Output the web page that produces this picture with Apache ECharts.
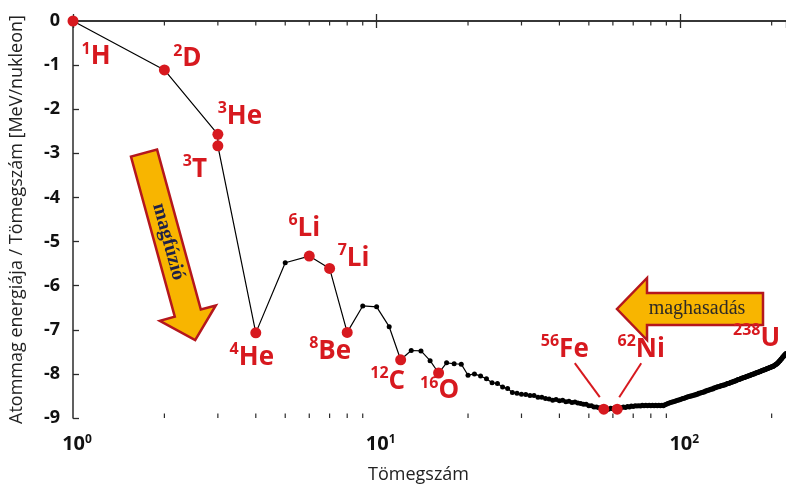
<!DOCTYPE html>
<html>
<head>
<meta charset="utf-8">
<script src="https://cdn.jsdelivr.net/npm/echarts@6/dist/echarts.min.js"></script>
<style>
html,body{margin:0;padding:0;background:#fff;}
#chart{width:786px;height:489px;}
</style>
</head>
<body>
<div id="chart"></div>
<script>
// ---- data ----
const curveMass = [
  1,2,3,3,4,5,6,7,8,9,10,11,12,13,14,15,16,17,18,19,
  20,21,22,23,24,25,26,27,28,29,30,31,32,33,34,35,36,37,38,39,
  40,41,42,43,44,45,46,47,48,49,50,51,52,53,54,55,56,57,58,59,
  60,61,62,63,64,65,66,67,68,69,70,71,72,73,74,75,76,77,78,79,
  80,81,82,83,84,85,86,87,88,89,90,91,92,93,94,95,96,97,98,99,
  100,101,102,103,104,105,106,107,108,109,110,111,112,113,114,115,116,117,118,119,
  120,121,122,123,124,125,126,127,128,129,130,131,132,133,134,135,136,137,138,139,
  140,141,142,143,144,145,146,147,148,149,150,151,152,153,154,155,156,157,158,159,
  160,161,162,163,164,165,166,167,168,169,170,171,172,173,174,175,176,177,178,179,
  180,181,182,183,184,185,186,187,188,189,190,191,192,193,194,195,196,197,198,199,
  200,201,202,203,204,205,206,207,208,209,210,211,212,213,214,215,216,217,218,219,
  220,221,222,223
];
const curveEnergy = [
  0,-1.11,-2.57,-2.83,-7.07,-5.48,-5.33,-5.61,-7.06,-6.46,-6.48,-6.93,-7.68,-7.47,-7.48,-7.70,-7.98,-7.75,-7.77,-7.78,
  -8.03,-8.00,-8.05,-8.11,-8.20,-8.22,-8.30,-8.33,-8.42,-8.44,-8.46,-8.47,-8.49,-8.49,-8.53,-8.53,-8.56,-8.57,-8.60,-8.58,
  -8.61,-8.60,-8.63,-8.62,-8.65,-8.64,-8.66,-8.67,-8.69,-8.69,-8.72,-8.72,-8.75,-8.75,-8.77,-8.77,-8.80,-8.78,-8.80,-8.78,
  -8.79,-8.77,-8.80,-8.76,-8.77,-8.75,-8.76,-8.74,-8.75,-8.73,-8.74,-8.72,-8.73,-8.72,-8.73,-8.71,-8.72,-8.71,-8.72,-8.71,
  -8.72,-8.71,-8.72,-8.71,-8.72,-8.71,-8.72,-8.71,-8.72,-8.70,-8.69,-8.67,-8.66,-8.65,-8.64,-8.63,-8.62,-8.61,-8.60,-8.59,
  -8.58,-8.57,-8.56,-8.55,-8.54,-8.53,-8.52,-8.51,-8.50,-8.50,-8.49,-8.48,-8.48,-8.46,-8.46,-8.44,-8.44,-8.43,-8.42,-8.41,
  -8.41,-8.39,-8.39,-8.37,-8.37,-8.36,-8.35,-8.34,-8.34,-8.32,-8.32,-8.31,-8.30,-8.29,-8.29,-8.28,-8.27,-8.27,-8.26,-8.25,
  -8.25,-8.24,-8.23,-8.22,-8.22,-8.21,-8.20,-8.19,-8.19,-8.18,-8.17,-8.16,-8.16,-8.15,-8.14,-8.13,-8.13,-8.12,-8.11,-8.10,
  -8.10,-8.09,-8.08,-8.08,-8.07,-8.06,-8.06,-8.05,-8.04,-8.04,-8.03,-8.02,-8.02,-8.01,-8.00,-8.00,-7.99,-7.98,-7.98,-7.97,
  -7.97,-7.96,-7.95,-7.95,-7.94,-7.93,-7.93,-7.92,-7.91,-7.91,-7.90,-7.90,-7.89,-7.88,-7.88,-7.87,-7.86,-7.86,-7.85,-7.85,
  -7.84,-7.83,-7.83,-7.82,-7.81,-7.80,-7.79,-7.78,-7.77,-7.76,-7.74,-7.73,-7.71,-7.70,-7.68,-7.66,-7.65,-7.63,-7.61,-7.60,
  -7.58,-7.57,-7.55,-7.54
];
const nuclideSup    = ['1','2','3','3','4','6','7','8','12','16','56','62','238'];
const nuclideSymbol = ['H','D','He','T','He','Li','Li','Be','C','O','Fe','Ni','U'];
const nuclideMass   = [1,2,3,3,4,6,7,8,12,16,56,62,238];
const nuclideEnergy = [0,-1.11,-2.57,-2.83,-7.07,-5.33,-5.61,-7.06,-7.68,-7.98,-8.80,-8.80,-7.57];
const minorTickValues = [2,3,4,5,6,7,8,9,20,30,40,50,60,70,80,90,200];

// ---- styling (label offsets, px) ----
const labelOffsets = [[23,36],[23,-11],[22,-18],[-23,24],[-4,25],[-5,-28],[24,-10],[-17,19],[-13,22],[1,18],[-39,-60],[24,-60],[-38,-16]];
const leaderLines = {Fe: [[-29,-46],[-4,-12]], Ni: [[24,-46],[2,-12]]};
const RED = '#d7191f';
const AXIS = '#2b2b2b';

const curveData = curveMass.map((a,i)=>[a, curveEnergy[i]]);
const nuclideData = nuclideMass.map((a,i)=>({
  value:[a, nuclideEnergy[i]],
  name: nuclideSymbol[i],
  label:{formatter: '{s|'+nuclideSup[i]+'}{m|'+nuclideSymbol[i]+'}'}
}));
const leaderData = nuclideMass.map((a,i)=>[a, nuclideEnergy[i], nuclideSymbol[i]]).filter(d=>leaderLines[d[2]]);

const chart = echarts.init(document.getElementById('chart'), null, {renderer:'canvas'});
const option = {
  backgroundColor:'#fff',
  animation:false,
  grid:{left:71, top:21, right:0, bottom:61, containLabel:false},
  xAxis:[{
    type:'log', logBase:10, min:1, max:223,
    position:'bottom',
    name:'Tömegszám', nameLocation:'middle', nameGap:48,
    nameTextStyle:{fontFamily:'Open Sans', fontSize:18, color:'#222', padding:[0,22,0,0]},
    axisLine:{lineStyle:{color:AXIS, width:1.5}},
    axisTick:{inside:true, length:7, lineStyle:{color:AXIS, width:1.3}},
    splitLine:{show:false},
    axisLabel:{
      margin:16, showMaxLabel:false,
      formatter:function(v){
        const l = Math.log10(v); const p = Math.round(l);
        if (Math.abs(l-p) > 1e-6) return '';
        return '{b|10}{s|'+p+'}';
      },
      rich:{
        b:{fontFamily:'Open Sans', fontWeight:'bold', fontSize:20, color:'#111', padding:[0,0,0,8]},
        s:{fontFamily:'Open Sans', fontWeight:'bold', fontSize:12, color:'#111', verticalAlign:'top'}
      }
    }
  },{
    type:'log', logBase:10, min:1, max:223,
    position:'top',
    axisLine:{lineStyle:{color:AXIS, width:1.5}},
    axisTick:{inside:true, length:7, lineStyle:{color:AXIS, width:1.3}},
    axisLabel:{show:false}, splitLine:{show:false}
  }],
  yAxis:{
    type:'value', min:-9, max:0, interval:1,
    name:'Atommag energiája / Tömegszám [MeV/nukleon]',
    nameLocation:'middle', nameGap:47, nameRotate:90,
    nameTextStyle:{fontFamily:'Open Sans', fontSize:18, color:'#222'},
    axisLine:{show:true, lineStyle:{color:AXIS, width:1.5}},
    axisTick:{inside:true, length:6, lineStyle:{color:AXIS, width:1.3}},
    splitLine:{show:false},
    axisLabel:{margin:13, fontFamily:'Open Sans', fontWeight:'bold', fontSize:18, color:'#111'}
  },
  series:[
    {
      type:'line', data:curveData, xAxisIndex:0,
      symbol:'circle', symbolSize:5, showAllSymbol:true,
      lineStyle:{color:'#000', width:1.2},
      itemStyle:{color:'#000'},
      z:2, silent:true
    },
    {
      type:'scatter', data:nuclideData, xAxisIndex:0,
      symbol:'circle', symbolSize:11, clip:false,
      itemStyle:{color:RED, borderWidth:0, opacity:1},
      label:{
        show:true, position:'inside', align:'center', verticalAlign:'middle',
        textBorderWidth:0, textShadowBlur:0,
        rich:{
          s:{fontFamily:'Open Sans', fontWeight:'bold', fontSize:16, color:RED, verticalAlign:'top', lineHeight:19, textBorderWidth:0},
          m:{fontFamily:'Open Sans', fontWeight:'bold', fontSize:26, color:RED, lineHeight:32, textBorderWidth:0}
        }
      },
      labelLayout:function(params){
        const o = labelOffsets[params.dataIndex];
        return {dx:o[0], dy:o[1], hideOverlap:false};
      },
      z:5, silent:true
    },
    {
      type:'custom', xAxisIndex:0, data:leaderData, clip:false, silent:true, z:4,
      renderItem:function(params, api){
        const d = leaderData[params.dataIndex];
        const p = api.coord([d[0], d[1]]);
        const seg = leaderLines[d[2]];
        return {type:'line', shape:{x1:p[0]+seg[0][0], y1:p[1]+seg[0][1], x2:p[0]+seg[1][0], y2:p[1]+seg[1][1]},
                style:{stroke:RED, lineWidth:2}};
      }
    },
    {
      type:'custom', xAxisIndex:0, data:minorTickValues.map(v=>[v,-9]), clip:false, silent:true, z:3,
      renderItem:function(params, api){
        const v = api.value(0);
        const b = api.coord([v,-9]);
        const t = api.coord([v,0]);
        return {type:'group', children:[
          {type:'line', shape:{x1:b[0], y1:b[1], x2:b[0], y2:b[1]-4.5}, style:{stroke:AXIS, lineWidth:1.2}},
          {type:'line', shape:{x1:t[0], y1:t[1], x2:t[0], y2:t[1]+4.5}, style:{stroke:AXIS, lineWidth:1.2}}
        ]};
      }
    }
  ],
  graphic:[
    {
      type:'group', x:144, y:153, rotation:-74.7*Math.PI/180, z:10,
      children:[
        {type:'polygon', shape:{points:[[0,-13.5],[166,-13.5],[166,-29],[194,0],[166,29],[166,13.5],[0,13.5]]},
         style:{fill:'#f8b500', stroke:'#b5171d', lineWidth:2.5, lineJoin:'miter'}},
        {type:'text', x:92, y:0, style:{text:'magfúzió', fontFamily:'Liberation Serif', fontWeight:'bold', fontSize:20,
          fill:'#1d2048', align:'center', verticalAlign:'middle'}}
      ]
    },
    {
      type:'group', z:10,
      children:[
        {type:'polygon', shape:{points:[[763,293],[647,293],[647,278],[617,309],[647,340],[647,325],[763,325]]},
         style:{fill:'#f8b500', stroke:'#b5171d', lineWidth:2.5, lineJoin:'miter'}},
        {type:'text', x:697, y:309, style:{text:'maghasadás', fontFamily:'Liberation Serif', fontSize:20,
          fill:'#2e2a26', align:'center', verticalAlign:'middle'}}
      ]
    }
  ]
};
chart.setOption(option);
</script>
</body>
</html>
